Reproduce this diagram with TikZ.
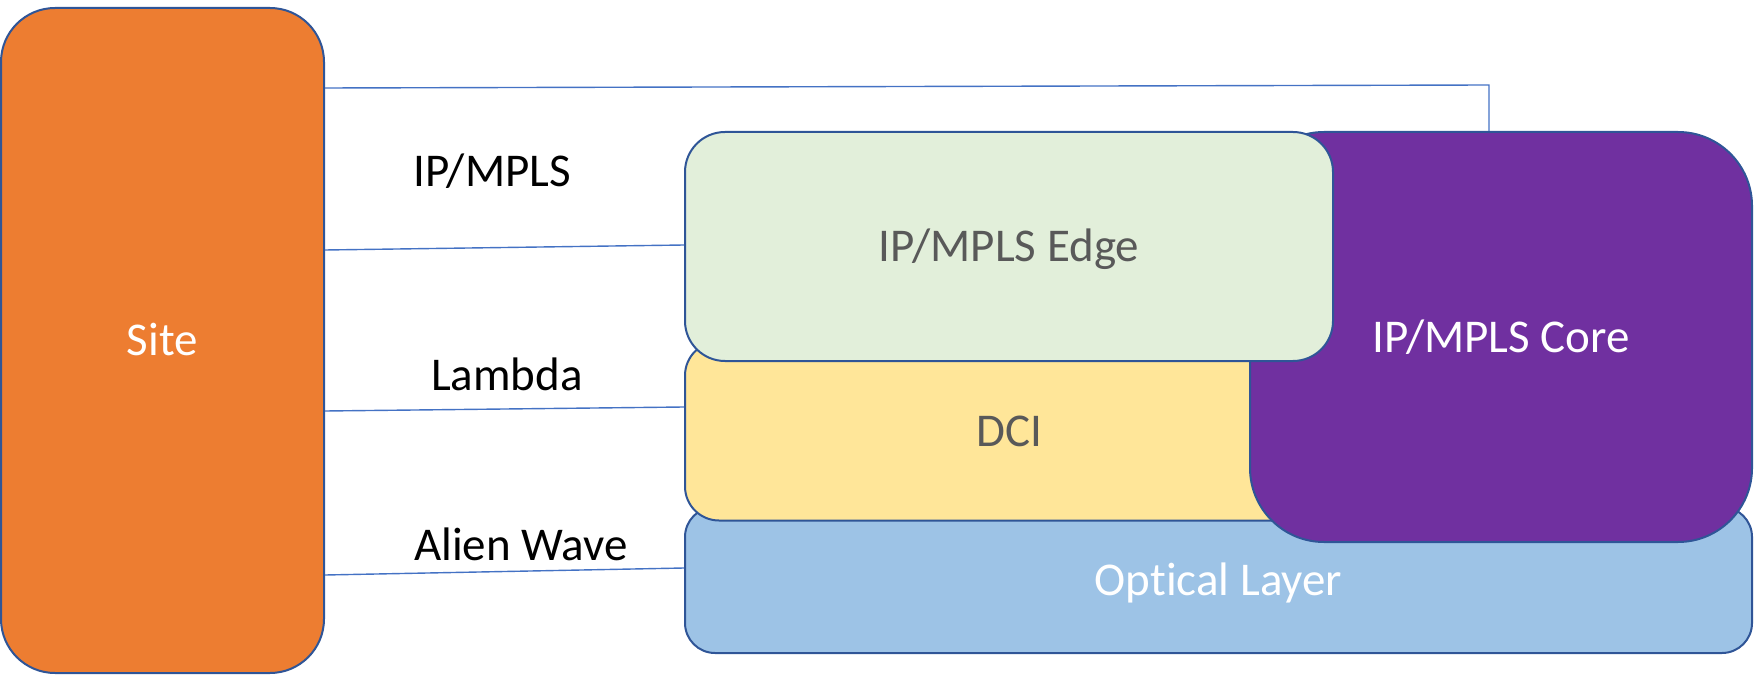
\documentclass[tikz,border=0pt]{standalone}
\usepackage{fontspec}
\setmainfont{Carlito}[Ligatures={NoCommon,NoRare}]
\definecolor{bordc}{HTML}{2F5597}
\definecolor{linec}{HTML}{4472C4}
\definecolor{sitec}{HTML}{ED7D31}
\definecolor{edgec}{HTML}{E2EFDA}
\definecolor{dcic}{HTML}{FFE699}
\definecolor{optc}{HTML}{9DC3E6}
\definecolor{corec}{HTML}{7030A0}
\definecolor{greyt}{HTML}{595959}
\begin{document}
\begin{tikzpicture}[x=0.5pt,y=-0.5pt,
  box/.style={draw=bordc, line width=1pt, rectangle, inner sep=0pt,
    text height=15pt, text depth=0pt, font=\fontsize{23.5}{28}\selectfont},
  conn/.style={draw=linec, line width=0.7pt},
  lab/.style={font=\fontsize{23.5}{28}\selectfont, text=black, anchor=base, inner sep=0pt}]
\useasboundingbox (0,0) rectangle (1754,678);
% boxes
\node[box, fill=sitec, text=white, minimum width=161.5pt, minimum height=332.5pt, rounded corners=27pt] (site) at (162.5,340.5) {Site};
\node[box, fill=optc, text=white, minimum width=533.5pt, minimum height=73pt, rounded corners=15pt] (opt) at (1218.5,580) {Optical Layer};
\node[box, fill=dcic, text=greyt, minimum width=324pt, minimum height=89.5pt, rounded corners=17pt] (dci) at (1009,431) {DCI};
\node[box, fill=corec, text=white, minimum width=251pt, minimum height=205pt, rounded corners=37pt] (core) at (1501,337) {IP/MPLS Core};
\node[box, fill=edgec, text=greyt, minimum width=324pt, minimum height=114.5pt, rounded corners=20pt] (edge) at (1009,246.5) {IP/MPLS Edge};
% connectors
\coordinate (tc) at (1489,85);
\draw[conn] (site.east |- 0,88) -- (tc) -- (core.north -| tc);
\draw[conn] (site.east |- 0,250) -- (edge.west |- 0,245);
\draw[conn] (site.east |- 0,411) -- (dci.west |- 0,407);
\draw[conn] (site.east |- 0,575) -- (opt.west |- 0,568);
% labels
\node[lab] (l1) at (492,187) {IP/MPLS};
\node[lab] (l2) at (507,390) {Lambda};
\node[lab] (l3) at (521,560) {Alien Wave};
\end{tikzpicture}
\end{document}
